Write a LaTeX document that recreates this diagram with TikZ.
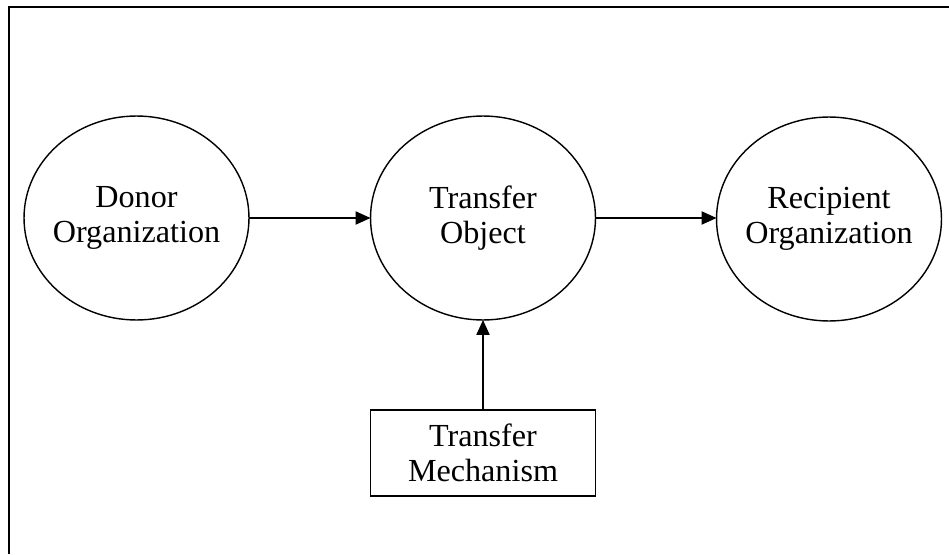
\documentclass[tikz,border=0pt]{standalone}
\usepackage{fontspec}
\setmainfont{Liberation Serif}
\usetikzlibrary{arrows.meta}
\usetikzlibrary{positioning}
\usetikzlibrary{shapes.geometric}

\tikzset{
  party/.style={draw, ellipse, line width=0.8pt, inner xsep=-4pt, inner ysep=0pt,
    outer sep=0pt, minimum width=4.5cm, minimum height=4.08cm, align=center,
    font=\fontsize{18.3}{19.6}\selectfont},
  mech/.style={draw, rectangle, line width=0.6pt, inner sep=0pt, outer sep=0pt,
    minimum width=4.5cm, minimum height=1.72cm, align=center,
    font=\fontsize{18.3}{19.6}\selectfont},
  flow/.style={line width=0.8pt, -{Triangle[length=8.5pt,width=7.5pt]}}
}

\begin{document}
\begin{tikzpicture}[x=0.02cm,y=-0.02cm]
  \useasboundingbox (0,0) rectangle (949,554);

  % frame (cut at right and bottom)
  \draw [line width=1.2pt] (9,554) -- (9,7) -- (949,7);

  \node [party] (donor) at (136.5,218) {Donor\\Organization};
  \node [party] (object) at (483,218) {Transfer\\Object};
  \node [party] (recipient) at (829,219) {Recipient\\Organization};

  \node [mech] (mechanism) at (483,453) {Transfer\\Mechanism};

  \draw [flow] (donor.east) -- (object.west);
  \draw [flow] (object.east) -- (recipient.west |- object.east);
  \draw [flow] (mechanism.north) -- (object.south);

\end{tikzpicture}
\end{document}
